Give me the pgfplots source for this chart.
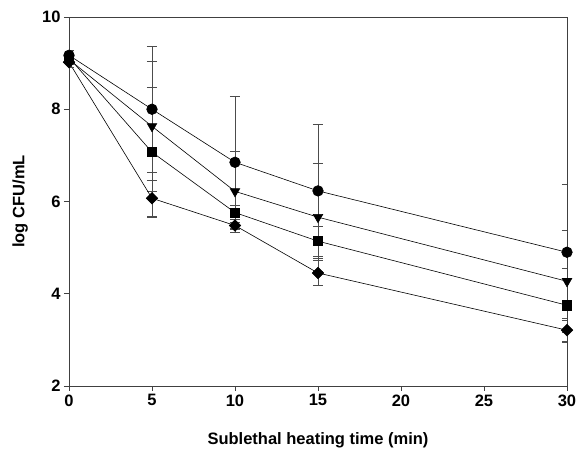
\documentclass[border=0pt]{standalone}
\usepackage{fontspec}
\setmainfont{Liberation Sans}
\usepackage{pgfplots}
\pgfplotsset{compat=1.18}

\begin{document}
\begin{tikzpicture}[x=1pt,y=1pt]
\path[use as bounding box] (-69,-69) rectangle (510,386);
\begin{axis}[
    at={(0,0)}, anchor=south west,
    scale only axis,
    width=498pt, height=369pt,
    xmin=0, xmax=30, ymin=2, ymax=10,
    xtick={0,5,10,15,20,25,30},
    ytick={2,4,6,8,10},
    tick pos=left,
    tick align=outside,
    major tick length=5pt,
    axis line style={black!75, line width=0.6pt},
    tick style={black!75, line width=0.6pt},
    ticklabel style={font=\fontsize{16.5}{20}\selectfont\bfseries},
    /pgf/number format/assume math mode=true,
    xlabel={Sublethal heating time (min)},
    ylabel={log CFU/mL},
    label style={font=\fontsize{16.5}{20}\selectfont\bfseries},
    xlabel style={at={(axis description cs:0.5,-0.146)}, anchor=center},
    ylabel style={at={(axis description cs:-0.098,0.5)}, anchor=center},
    error bars/error bar style={black!70, line width=0.5pt},
    error bars/error mark options={rotate=90, mark size=5pt, black!70, line width=0.5pt},
]
% circles
\addplot[black, line width=0.6pt, mark=*, mark size=5.3pt, mark options={draw=black, fill=black},
    error bars/.cd, y dir=both, y explicit]
coordinates {(0,9.17) +- (0,0.12) (5,8.00) +- (0,1.36) (10,6.85) +- (0,1.44) (15,6.23) +- (0,1.45) (30,4.90) +- (0,1.48)};
% down triangles
\addplot[black, line width=0.6pt, mark=triangle*, mark size=5.5pt, mark options={draw=black, fill=black, rotate=180},
    error bars/.cd, y dir=both, y explicit]
coordinates {(0,9.08) +- (0,0.10) (5,7.63) +- (0,1.40) (10,6.22) +- (0,0.88) (15,5.66) +- (0,1.17) (30,4.27) +- (0,1.10)};
% squares
\addplot[black, line width=0.6pt, mark=square*, mark size=4.6pt, mark options={draw=black, fill=black},
    error bars/.cd, y dir=both, y explicit]
coordinates {(0,9.12) +- (0,0.10) (5,7.07) +- (0,1.41) (10,5.76) +- (0,0.15) (15,5.14) +- (0,0.33) (30,3.75) +- (0,0.80)};
% diamonds
\addplot[black, line width=0.6pt, mark=square*, mark size=4.1pt, mark options={draw=black, fill=black, rotate=45},
    error bars/.cd, y dir=both, y explicit]
coordinates {(0,9.02) +- (0,0.10) (5,6.07) +- (0,0.40) (10,5.48) +- (0,0.08) (15,4.45) +- (0,0.27) (30,3.21) +- (0,0.25)};
\end{axis}
\end{tikzpicture}
\end{document}
